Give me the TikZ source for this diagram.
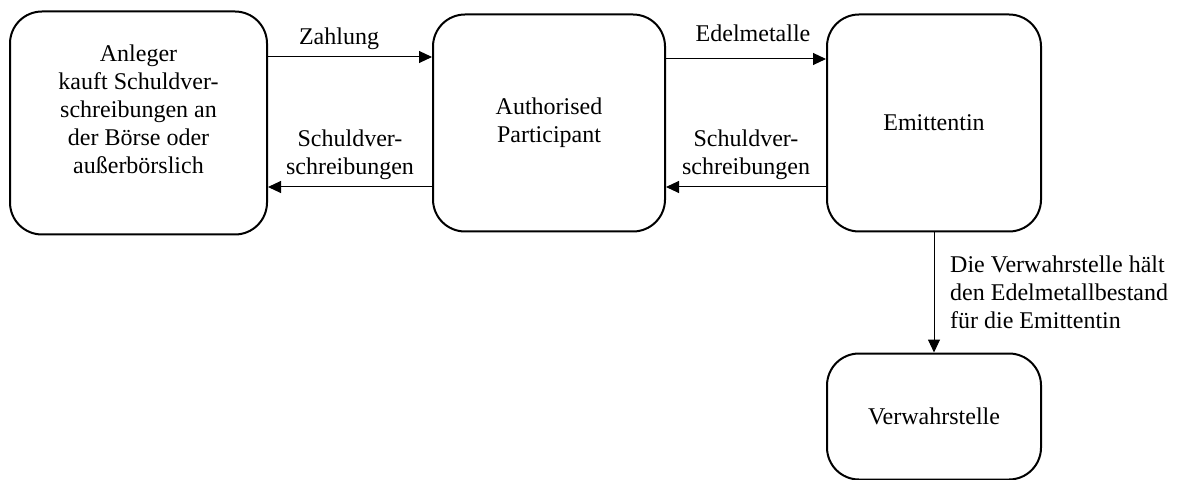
\documentclass[tikz,border=0pt]{standalone}
\usepackage{fontspec}
\setmainfont{Liberation Serif}
\usetikzlibrary{arrows.meta, positioning}

\begin{document}
\begin{tikzpicture}[
    node distance=82pt and 80pt,
    box/.style={draw, line width=1pt, rounded corners=16pt, minimum width=107pt, minimum height=108.5pt, align=center, font=\fontsize{12pt}{14pt}\selectfont},
    lbl/.style={align=center, font=\fontsize{12pt}{14pt}\selectfont},
    arr/.style={-{Triangle[length=6.5pt, width=6pt]}, line width=0.5pt}
]
\useasboundingbox (0,0) rectangle (590.5pt,-240pt);
\node[box, minimum width=128.5pt, minimum height=111.5pt] (anleger) at (69.25pt,-61.5pt) {Anleger\\kauft Schuldver-\\schreibungen an\\der Börse oder\\außerbörslich\hspace*{18pt}\\~};
\node[box, minimum width=116pt, right=82pt of anleger] (ap) {Authorised\\Participant};
\node[box, right=80pt of ap] (emi) {Emittentin};
\node[box, minimum height=63pt, below=60pt of emi] (verw) {Verwahrstelle};
\draw[arr] ([yshift=33pt]anleger.east) -- node[lbl, above, xshift=-5.5pt] (zahlung) {Zahlung} ([yshift=33pt]ap.west);
\draw[arr] ([yshift=-32pt]ap.west) -- node[lbl, above] (sv1) {Schuldver-\\schreibungen} ([yshift=-32pt]anleger.east);
\draw[arr] ([yshift=32pt]ap.east) -- node[lbl, above=5pt, xshift=3.5pt] (edel) {Edelmetalle} ([yshift=32pt]emi.west);
\draw[arr] ([yshift=-32pt]emi.west) -- node[lbl, above] (sv2) {Schuldver-\\schreibungen} ([yshift=-32pt]ap.east);
\draw[arr] (emi) -- node[lbl, right, align=left, xshift=4.5pt] (halt) {Die Verwahrstelle hält\\den Edelmetallbestand\\für die Emittentin} (verw);
\end{tikzpicture}
\end{document}
